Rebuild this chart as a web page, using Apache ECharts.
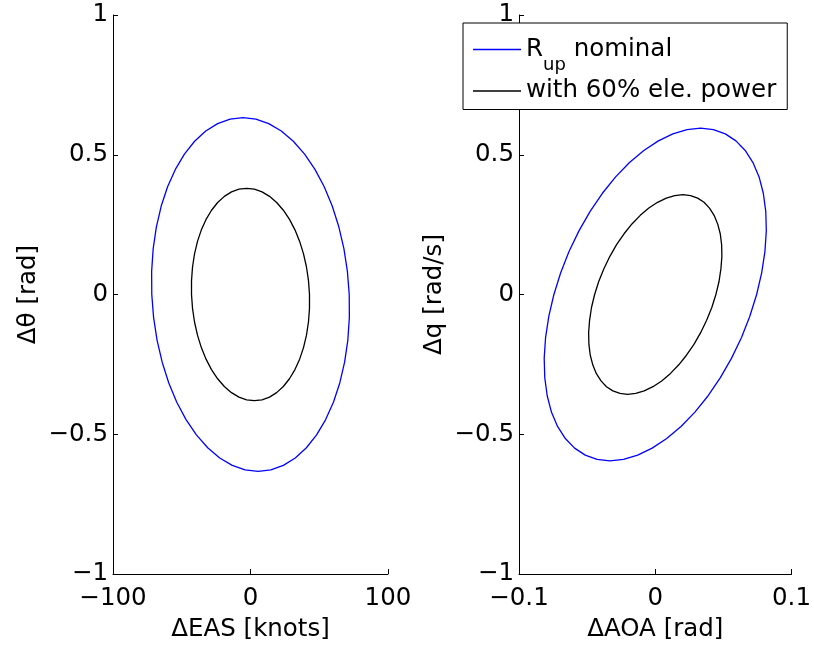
<!DOCTYPE html>
<html>
<head>
<meta charset="utf-8">
<script src="https://cdn.jsdelivr.net/npm/echarts@6/dist/echarts.min.js"></script>
<style>html,body{margin:0;padding:0;background:#fff;}#c{width:814px;height:647px;}</style>
</head>
<body>
<div id="c"></div>
<script>
// Series names
var seriesNames = ['R_up nominal', 'with 60% ele. power'];
// Axis titles
var axisTitles = { eas: '\u0394EAS [knots]', theta: '\u0394\u03b8 [rad]', aoa: '\u0394AOA [rad]', q: '\u0394q [rad/s]' };

// Left panel: ΔEAS vs Δθ (contour points)
var easNominal = [
  [71.8,0],[70.47,0.0826],[67.93,0.1638],[64.23,0.2422],[59.43,0.3165],[53.62,0.3853],[46.88,0.4476],[39.35,0.5022],[31.14,0.5482],[22.40,0.5848],[13.27,0.6114],[3.92,0.6276],
  [-5.5,0.633],[-14.83,0.6276],[-23.90,0.6114],[-32.56,0.5848],[-40.66,0.5482],[-48.07,0.5022],[-54.66,0.4476],[-60.31,0.3853],[-64.93,0.3165],[-68.44,0.2422],[-70.78,0.1638],[-71.90,0.0826],
  [-71.8,0],[-70.47,-0.0826],[-67.93,-0.1638],[-64.23,-0.2422],[-59.43,-0.3165],[-53.62,-0.3853],[-46.88,-0.4476],[-39.35,-0.5022],[-31.14,-0.5482],[-22.40,-0.5848],[-13.27,-0.6114],[-3.92,-0.6276],
  [5.5,-0.633],[14.83,-0.6276],[23.90,-0.6114],[32.56,-0.5848],[40.66,-0.5482],[48.07,-0.5022],[54.66,-0.4476],[60.31,-0.3853],[64.93,-0.3165],[68.44,-0.2422],[70.78,-0.1638],[71.90,-0.0826],
  [71.8,0]
];
var easReduced = [
  [42.9,0],[42.17,0.0496],[40.71,0.0984],[38.56,0.1454],[35.75,0.19],[32.33,0.2313],[28.36,0.2687],[23.90,0.3015],[19.03,0.3291],[13.83,0.3511],[8.40,0.3671],[2.82,0.3767],
  [-2.8,0.38],[-8.38,0.3767],[-13.81,0.3671],[-19.00,0.3511],[-23.88,0.3291],[-28.34,0.3015],[-32.32,0.2687],[-35.74,0.2313],[-38.55,0.19],[-40.71,0.1454],[-42.16,0.0984],[-42.90,0.0496],
  [-42.9,0],[-42.17,-0.0496],[-40.71,-0.0984],[-38.56,-0.1454],[-35.75,-0.19],[-32.33,-0.2313],[-28.36,-0.2687],[-23.90,-0.3015],[-19.03,-0.3291],[-13.83,-0.3511],[-8.40,-0.3671],[-2.82,-0.3767],
  [2.8,-0.38],[8.38,-0.3767],[13.81,-0.3671],[19.00,-0.3511],[23.88,-0.3291],[28.34,-0.3015],[32.32,-0.2687],[35.74,-0.2313],[38.55,-0.19],[40.71,-0.1454],[42.16,-0.0984],[42.90,-0.0496],
  [42.9,0]
];

// Right panel: ΔAOA vs Δq
var aoaNominal = [
  [0.0744,0],[0.0781,0.0777],[0.0805,0.154],[0.0815,0.2277],[0.0811,0.2975],[0.0793,0.3622],[0.0762,0.4207],[0.0717,0.4720],[0.0660,0.5153],[0.0592,0.5497],[0.0514,0.5747],[0.0427,0.5899],
  [0.0333,0.595],[0.0233,0.5899],[0.0129,0.5747],[0.0023,0.5497],[-0.0084,0.5153],[-0.0189,0.4720],[-0.0291,0.4207],[-0.0388,0.3622],[-0.0478,0.2975],[-0.0560,0.2277],[-0.0633,0.154],[-0.0694,0.0777],
  [-0.0744,0],[-0.0781,-0.0777],[-0.0805,-0.154],[-0.0815,-0.2277],[-0.0811,-0.2975],[-0.0793,-0.3622],[-0.0762,-0.4207],[-0.0717,-0.4720],[-0.0660,-0.5153],[-0.0592,-0.5497],[-0.0514,-0.5747],[-0.0427,-0.5899],
  [-0.0333,-0.595],[-0.0233,-0.5899],[-0.0129,-0.5747],[-0.0023,-0.5497],[0.0084,-0.5153],[0.0189,-0.4720],[0.0291,-0.4207],[0.0388,-0.3622],[0.0478,-0.2975],[0.0560,-0.2277],[0.0633,-0.154],[0.0694,-0.0777],
  [0.0744,0]
];
var aoaReduced = [
  [0.0445,0],[0.0468,0.0466],[0.0482,0.0924],[0.0489,0.1366],[0.0487,0.1785],[0.0477,0.2173],[0.0458,0.2524],[0.0432,0.2832],[0.0398,0.3092],[0.0358,0.3298],[0.0311,0.3448],[0.0259,0.3539],
  [0.0203,0.357],[0.0143,0.3539],[0.0081,0.3448],[0.0017,0.3298],[-0.0047,0.3092],[-0.0110,0.2832],[-0.0171,0.2524],[-0.0229,0.2173],[-0.0284,0.1785],[-0.0333,0.1366],[-0.0377,0.0924],[-0.0415,0.0466],
  [-0.0445,0],[-0.0468,-0.0466],[-0.0482,-0.0924],[-0.0489,-0.1366],[-0.0487,-0.1785],[-0.0477,-0.2173],[-0.0458,-0.2524],[-0.0432,-0.2832],[-0.0398,-0.3092],[-0.0358,-0.3298],[-0.0311,-0.3448],[-0.0259,-0.3539],
  [-0.0203,-0.357],[-0.0143,-0.3539],[-0.0081,-0.3448],[-0.0017,-0.3298],[0.0047,-0.3092],[0.0110,-0.2832],[0.0171,-0.2524],[0.0229,-0.2173],[0.0284,-0.1785],[0.0333,-0.1366],[0.0377,-0.0924],[0.0415,-0.0466],
  [0.0445,0]
];

// Tick ranges
var easTicks = [-100, 0, 100];
var aoaTicks = [-0.1, 0, 0.1];
var yTicks = [-1, -0.5, 0, 0.5, 1];

var FONT = "'DejaVu Sans', 'Liberation Sans', Arial, sans-serif";
var FS = 24.5;
function fmt(v) { return String(Math.round(v * 1000) / 1000).replace('-', '\u2212'); }

function xAxisCfg(idx, ticks, name) {
  return {
    type: 'value', gridIndex: idx,
    min: ticks[0], max: ticks[ticks.length - 1], interval: ticks[1] - ticks[0],
    name: name, nameLocation: 'middle', nameGap: 43,
    nameTextStyle: { fontFamily: FONT, fontSize: FS, color: '#000' },
    axisLine: { onZero: false, lineStyle: { color: '#000', width: 1 } },
    axisTick: { inside: true, length: 5, lineStyle: { color: '#000' } },
    axisLabel: { fontFamily: FONT, fontSize: FS, color: '#000', margin: 12, formatter: fmt, showMinLabel: true, showMaxLabel: true },
    splitLine: { show: false }
  };
}
function yAxisCfg(idx, name) {
  return {
    type: 'value', gridIndex: idx,
    min: yTicks[0], max: yTicks[yTicks.length - 1], interval: yTicks[1] - yTicks[0],
    name: name, nameLocation: 'middle', nameGap: 72, nameRotate: 90,
    nameTextStyle: { fontFamily: FONT, fontSize: FS, color: '#000' },
    axisLine: { onZero: false, lineStyle: { color: '#000', width: 1 } },
    axisTick: { inside: true, length: 5, lineStyle: { color: '#000' } },
    axisLabel: { fontFamily: FONT, fontSize: FS, color: '#000', margin: 5, formatter: fmt },
    splitLine: { show: false }
  };
}
function lineSeries(name, color, xi, data) {
  return {
    name: name, type: 'line', xAxisIndex: xi, yAxisIndex: xi, data: data,
    smooth: false, showSymbol: false, symbol: 'none', animation: false,
    lineStyle: { color: color, width: 1.3 }, itemStyle: { color: color }
  };
}

var chart = echarts.init(document.getElementById('c'), null, { renderer: 'canvas' });
chart.setOption({
  backgroundColor: '#fff',
  animation: false,
  grid: [
    { left: 113, top: 15, width: 275, height: 562 },
    { left: 519, top: 15, width: 275, height: 562 }
  ],
  xAxis: [xAxisCfg(0, easTicks, axisTitles.eas), xAxisCfg(1, aoaTicks, axisTitles.aoa)],
  yAxis: [yAxisCfg(0, axisTitles.theta), yAxisCfg(1, axisTitles.q)],
  legend: {
    data: seriesNames,
    orient: 'vertical', left: 463, top: 23,
    padding: [14, 11, 6, 10], itemGap: 4,
    itemWidth: 48, itemHeight: 1.5, icon: 'rect',
    backgroundColor: '#fff', borderColor: '#000', borderWidth: 1,
    textStyle: {
      fontFamily: FONT, fontSize: FS, color: '#000',
      rich: {
        a: { fontFamily: FONT, fontSize: FS, color: '#000', lineHeight: 26 },
        b: { fontFamily: FONT, fontSize: 18, color: '#000', lineHeight: 26, padding: [16, 0, -16, 0] }
      }
    },
    formatter: function (n) {
      if (n === seriesNames[0]) return '{a|R}{b|up}{a| nominal}';
      return '{a|' + n + '}';
    }
  },
  series: [
    lineSeries(seriesNames[0], '#0000ff', 0, easNominal),
    lineSeries(seriesNames[1], '#000000', 0, easReduced),
    lineSeries(seriesNames[0], '#0000ff', 1, aoaNominal),
    lineSeries(seriesNames[1], '#000000', 1, aoaReduced)
  ]
});
</script>
</body>
</html>
